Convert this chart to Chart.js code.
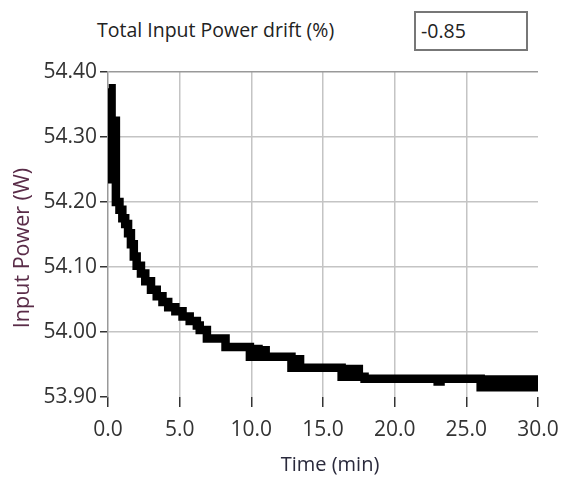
<!DOCTYPE html>
<html>
<head>
<meta charset="utf-8">
<script src="https://cdn.jsdelivr.net/npm/chart.js@4.4.1/dist/chart.umd.min.js"></script>
<style>
    html, body { margin: 0; padding: 0; background: #fff; }
    #wrap { position: relative; width: 561px; height: 482px; font-family: 'Open Sans', sans-serif; }
    #drift-label { position: absolute; left: 97px; top: 16px; font-size: 19.5px; color: #222; white-space: nowrap; }
    #drift-box { position: absolute; left: 414px; top: 11px; width: 105px; height: 36px; border: 2px solid #777;
                 font-size: 19.5px; color: #222; line-height: 36px; padding-left: 5px; box-sizing: content-box; }
    canvas { position: absolute; left: 0; top: 0; }
</style>
</head>
<body>
<div id="wrap">
    <div id="drift-label">Total Input Power drift (%)</div>
    <div id="drift-box">-0.85</div>
    <canvas id="chart" width="561" height="482"></canvas>
</div>
<script>
// DATA

const driftValue = '-0.85';

const timeMin = [
    0.05, 0.25, 0.4, 0.55, 0.8, 1.0, 1.2, 1.4, 1.6, 1.8,
    2.0, 2.3, 2.6, 3.0, 3.4, 3.8, 4.2, 4.7, 5.2, 5.7,
    6.2, 6.4, 6.9, 8.2, 9.9, 10.2, 10.5, 10.8, 11.0, 12.8,
    13.1, 13.4, 16.3, 16.6, 16.9, 17.2, 17.5, 17.9, 23.0, 23.2,
    26.0, 26.25, 26.5, 26.75, 27.0, 27.25, 27.5, 27.75, 28.0, 28.25,
    28.5, 28.75, 29.0, 29.25, 29.5, 29.75, 30.0
];

const powerW = [
    54.375, 54.235, 54.325, 54.200, 54.188, 54.175, 54.166, 54.152, 54.135, 54.116,
    54.102, 54.090, 54.078, 54.065, 54.055, 54.046, 54.038, 54.032, 54.024, 54.017,
    54.010, 54.003, 53.990, 53.977, 53.962, 53.974, 53.962, 53.972, 53.962, 53.945,
    53.958, 53.945, 53.931, 53.943, 53.931, 53.943, 53.931, 53.928, 53.924, 53.928,
    53.915, 53.927, 53.915, 53.927, 53.915, 53.927, 53.915, 53.927, 53.915, 53.927,
    53.915, 53.927, 53.915, 53.927, 53.915, 53.927, 53.915
];

const xTickValues = [0, 5, 10, 15, 20, 25, 30];
const yTickValues = [53.9, 54.0, 54.1, 54.2, 54.3, 54.4];

const xTitle = 'Time (min)';
const yTitle = 'Input Power (W)';


// LAYOUT

const area = { left: 108, right: 538, top: 72, bottom: 397 };
const font = { family: "'Open Sans', sans-serif" };


// AXIS TITLES

const axisTitles = {
    id: 'axisTitles',
    afterDraw(chart) {
        const ctx = chart.ctx;
        ctx.save();
        ctx.textAlign = 'center';
        ctx.textBaseline = 'middle';

        ctx.font = `20px ${font.family}`;
        ctx.fillStyle = '#2a2a3c';
        ctx.fillText(xTitle, 330, 465);

        ctx.font = `21.5px ${font.family}`;
        ctx.translate(23, 248);
        ctx.rotate(-Math.PI / 2);
        ctx.fillStyle = '#5a2c48';
        ctx.fillText(yTitle, 0, 0);
        ctx.restore();
    }
};


// CHART

document.getElementById('drift-box').textContent = driftValue;

new Chart(document.getElementById('chart'), {
    type: 'line',
    data: {
        datasets: [{
            data: timeMin.map((t, i) => ({ x: t, y: powerW[i] })),
            borderColor: '#000',
            borderWidth: 8.5,
            borderCapStyle: 'butt',
            borderJoinStyle: 'miter',
            stepped: true,
            pointRadius: 0,
            fill: false
        }]
    },
    options: {
        responsive: false,
        animation: false,
        layout: { padding: { top: area.top, left: 0, right: 561 - area.right, bottom: 0 } },
        plugins: { legend: { display: false }, tooltip: { enabled: false } },
        scales: {
            x: {
                type: 'linear',
                min: 0,
                max: 30,
                afterBuildTicks: s => { s.ticks = xTickValues.map(v => ({ value: v })); },
                afterFit: s => { s.height = 482 - area.bottom; s.paddingLeft = 0; s.paddingRight = 0; },
                border: { display: false },
                grid: {
                    color: c => (c.index === 0 || c.index === xTickValues.length - 1) ? 'rgba(0,0,0,0)' : '#c4c4c4',
                    lineWidth: 1.5,
                    tickColor: '#333',
                    tickLength: 10,
                    tickWidth: 1.5
                },
                ticks: {
                    color: '#333',
                    font: { ...font, size: 21 },
                    padding: 10,
                    maxRotation: 0,
                    callback: v => v.toFixed(1)
                }
            },
            y: {
                min: 53.9,
                max: 54.4,
                afterBuildTicks: s => { s.ticks = yTickValues.map(v => ({ value: v })); },
                afterFit: s => { s.width = area.left; s.paddingTop = 0; s.paddingBottom = 0; },
                border: { display: true, color: '#999', width: 1.5 },
                grid: {
                    color: c => c.index === 0 ? 'rgba(0,0,0,0)' : (c.index === yTickValues.length - 1 ? '#999' : '#c4c4c4'),
                    lineWidth: 1.5,
                    tickColor: '#333',
                    tickLength: 8,
                    tickWidth: 1.5
                },
                ticks: {
                    color: '#333',
                    font: { ...font, size: 21 },
                    padding: 3,
                    callback: v => v.toFixed(2)
                }
            }
        }
    },
    plugins: [axisTitles]
});
</script>
</body>
</html>
